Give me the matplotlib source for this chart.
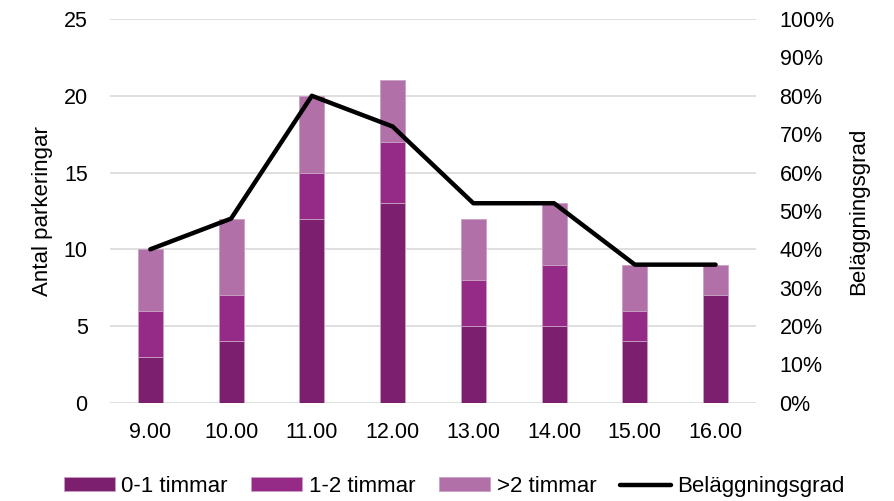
import matplotlib
matplotlib.use("Agg")
import matplotlib.pyplot as plt
import numpy as np
from matplotlib.ticker import PercentFormatter

plt.rcParams['font.family'] = ['Liberation Sans', 'DejaVu Sans']

hours = ['9.00', '10.00', '11.00', '12.00', '13.00', '14.00', '15.00', '16.00']
short_stay = [3, 4, 12, 13, 5, 5, 4, 7]      # 0-1 timmar
mid_stay = [3, 3, 3, 4, 3, 4, 2, 0]          # 1-2 timmar
long_stay = [4, 5, 5, 4, 4, 4, 3, 2]         # >2 timmar
occupancy = [0.40, 0.48, 0.80, 0.72, 0.52, 0.52, 0.36, 0.36]

c_dark = '#7B1F6E'
c_mid = '#962A87'
c_light = '#B170A8'

fig = plt.figure(figsize=(8.94, 5.01), dpi=100)
ax = fig.add_axes([0.123, 0.196, 0.7226, 0.766])
ax2 = ax.twinx()

x = np.arange(len(hours))
w = 0.31
b1 = np.array(short_stay)
b2 = b1 + np.array(mid_stay)
ax.bar(x, short_stay, w, color=c_dark, edgecolor='#C9A0C3', linewidth=0.6,
       label='0-1 timmar', zorder=3)
ax.bar(x, mid_stay, w, bottom=b1, color=c_mid, edgecolor='#C9A0C3',
       linewidth=0.6, label='1-2 timmar', zorder=3)
ax.bar(x, long_stay, w, bottom=b2, color=c_light, edgecolor='#C9A0C3',
       linewidth=0.6, label='>2 timmar', zorder=3)

ax2.plot(x, occupancy, color='black', lw=3.2, solid_capstyle='round',
         label='Beläggningsgrad', zorder=4)

ax.set_xlim(-0.5, 7.5)
ax.set_ylim(0, 25)
ax.set_yticks(range(0, 26, 5))
ax2.set_ylim(0, 1)
ax2.set_yticks(np.linspace(0, 1, 11))
ax2.yaxis.set_major_formatter(PercentFormatter(1.0, decimals=0))

ax.grid(axis='y', color='#D9D9D9', lw=1.2, zorder=0)
ax.set_axisbelow(True)
for a in (ax, ax2):
    for s in a.spines.values():
        s.set_visible(False)
    a.tick_params(length=0, labelsize=15.5, colors='#000000')
ax.tick_params(axis='y', pad=16)
ax2.tick_params(axis='y', pad=17)
ax.tick_params(axis='x', pad=14)
ax.set_xticks(x)
ax.set_xticklabels(hours)

ax.set_ylabel('Antal parkeringar', fontsize=16, labelpad=8)
ax2.set_ylabel('Beläggningsgrad', fontsize=16, labelpad=10)

h1, l1 = ax.get_legend_handles_labels()
h2, l2 = ax2.get_legend_handles_labels()
fig.legend(h1 + h2, l1 + l2, loc='lower center', ncol=4, frameon=False,
           fontsize=16, bbox_to_anchor=(0.508, -0.032), handlelength=2.3,
           handleheight=0.6, handletextpad=0.3, columnspacing=1.05)

fig.savefig('out.png', dpi=100)
